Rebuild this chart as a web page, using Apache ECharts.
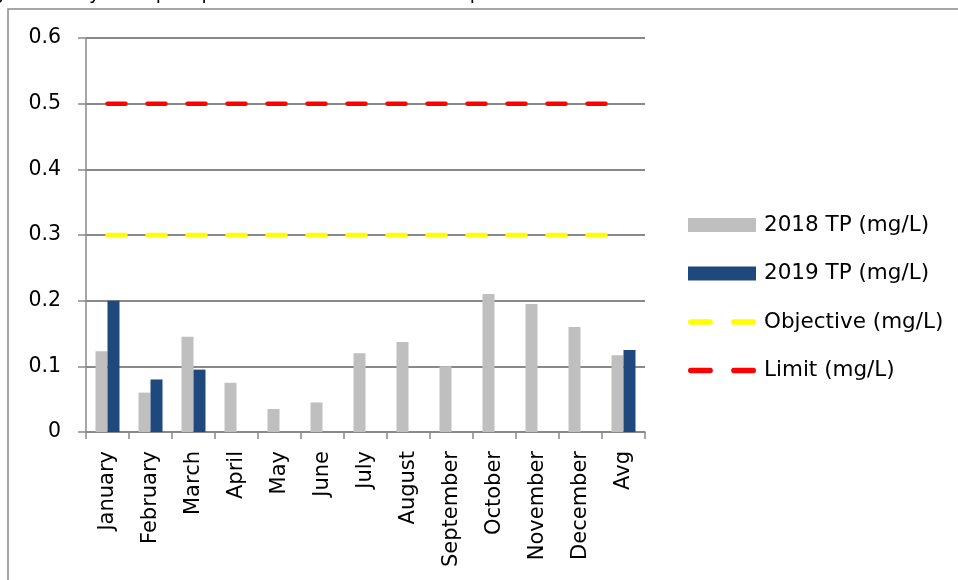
<!DOCTYPE html>
<html>
<head>
<meta charset="utf-8">
<script src="https://cdn.jsdelivr.net/npm/echarts@6/dist/echarts.min.js"></script>
<style>html,body{margin:0;padding:0;background:#fff;}#c{width:958px;height:580px;}</style>
</head>
<body>
<div id="c"></div>
<script>
const categories = ['January','February','March','April','May','June','July','August','September','October','November','December','Avg'];
const tp2018 = [0.123, 0.06, 0.145, 0.075, 0.035, 0.045, 0.12, 0.137, 0.1, 0.21, 0.195, 0.16, 0.117];
const tp2019 = [0.2, 0.08, 0.095, null, null, null, null, null, null, null, null, null, 0.125];
const objective = [0.3,0.3,0.3,0.3,0.3,0.3,0.3,0.3,0.3,0.3,0.3,0.3,0.3];
const limit = [0.5,0.5,0.5,0.5,0.5,0.5,0.5,0.5,0.5,0.5,0.5,0.5,0.5];
const yTicks = [0, 0.1, 0.2, 0.3, 0.4, 0.5, 0.6];
const titleText = 'Average monthly total phosphorus results for 2019 compared to 2018';

const chart = echarts.init(document.getElementById('c'), null, {renderer: 'canvas'});
const axisGray = '#898989';
const font = '"DejaVu Sans", sans-serif';
const dashIcon = 'path://M2.5,0h18a2.5,2.5 0 0 1 0,5h-18a2.5,2.5 0 0 1 0,-5z M42.5,0h18a2.5,2.5 0 0 1 0,5h-18a2.5,2.5 0 0 1 0,-5z';
chart.setOption({
  animation: false,
  backgroundColor: '#fff',
  textStyle: {fontFamily: font},
  graphic: [
    {type: 'rect', shape: {x: 8, y: 9, width: 1100, height: 800},
     style: {fill: 'none', stroke: axisGray, lineWidth: 1.5}, silent: true, z: -1},
    {type: 'text', left: -62, top: -15,
     style: {text: titleText, font: '19px "DejaVu Sans", sans-serif', fill: '#000'}}
  ],
  grid: {left: 86, top: 38, right: 313, bottom: 148, containLabel: false},
  legend: {
    orient: 'vertical', left: 683, top: 208,
    itemWidth: 68, itemHeight: 14, itemGap: 24.5,
    textStyle: {fontSize: 21.5, lineHeight: 24, fontFamily: font, color: '#000', padding: [0, 0, 0, 3]},
    data: [
      {name: '2018 TP (mg/L)', icon: 'rect'},
      {name: '2019 TP (mg/L)', icon: 'rect'},
      {name: 'Objective (mg/L)', icon: dashIcon},
      {name: 'Limit (mg/L)', icon: dashIcon}
    ]
  },
  xAxis: {
    type: 'category', data: categories, boundaryGap: true,
    axisLine: {lineStyle: {color: axisGray, width: 1.5}},
    axisTick: {show: true, alignWithLabel: false, length: 7, lineStyle: {color: axisGray, width: 1.5}},
    axisLabel: {rotate: 90, interval: 0, fontSize: 21, fontFamily: font, color: '#000', margin: 19}
  },
  yAxis: {
    type: 'value', min: 0, max: 0.6, interval: 0.1,
    axisLine: {show: true, lineStyle: {color: axisGray, width: 1.5}},
    axisTick: {show: true, inside: false, length: 8, lineStyle: {color: axisGray, width: 1.5}},
    splitLine: {show: true, lineStyle: {color: axisGray, width: 2}},
    axisLabel: {fontSize: 20.5, color: '#000', margin: 25, fontFamily: font,
      formatter: function (v) { const t = yTicks.find(x => Math.abs(x - v) < 1e-9); return t === 0 ? '0' : String(t); }}
  },
  series: [
    {name: '2018 TP (mg/L)', type: 'bar', data: tp2018, barWidth: 12, barGap: '0%',
     itemStyle: {color: '#BFBFBF'}},
    {name: '2019 TP (mg/L)', type: 'bar', data: tp2019, barWidth: 12, barGap: '0%',
     itemStyle: {color: '#1F497D'}},
    {name: 'Objective (mg/L)', type: 'line', data: objective, symbol: 'none', z: 3,
     itemStyle: {color: '#FFFF00'},
     lineStyle: {color: '#FFFF00', width: 4.5, type: [18, 22], cap: 'round'}},
    {name: 'Limit (mg/L)', type: 'line', data: limit, symbol: 'none', z: 3,
     itemStyle: {color: '#FF0000'},
     lineStyle: {color: '#FF0000', width: 4.5, type: [18, 22], cap: 'round'}}
  ]
});
</script>
</body>
</html>
